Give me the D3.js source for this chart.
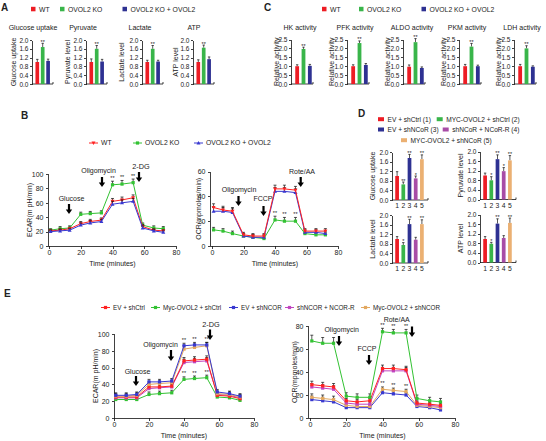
<!DOCTYPE html>
<html><head><meta charset="utf-8">
<script src="https://cdn.jsdelivr.net/npm/d3@7"></script>
<style>
body{margin:0;background:#fff}
svg{display:block}
text{font-family:"Liberation Sans",Arial,Helvetica,sans-serif;fill:#222}
.axis path,.axis line{stroke:#111;stroke-width:0.8;shape-rendering:crispEdges}
</style>
</head><body>
<svg id="c" width="546" height="441"></svg>
<script>
// ================= DATA =================
// Panel A
const groupsA = ["WT", "OVOL2 KO", "OVOL2 KO + OVOL2"];
const titlesA = ["Glucose uptake", "Pyruvate", "Lactate", "ATP"];
const ylabelsA = ["Glucose uptake", "Pyruvate  level", "Lactate level", "ATP level"];
const valuesA = [[1.0, 1.68, 1.05], [1.0, 1.6, 1.02], [1.0, 1.6, 1.02], [1.0, 1.65, 1.13]];
const errorsA = [[0.12, 0.17, 0.08], [0.14, 0.15, 0.1], [0.08, 0.15, 0.06], [0.1, 0.12, 0.1]];
const starsA = [["", "**", ""], ["", "**", ""], ["", "**", ""], ["", "**", ""]];
const ticksA = [0, 0.4, 0.8, 1.2, 1.6, 2.0];

// Panel C
const titlesC = ["HK activity", "PFK activity", "ALDO activity", "PKM activity", "LDH activity"];
const ylabelC = "Relative activity";
const valuesC = [[1.0, 1.97, 1.02], [1.0, 2.3, 1.07], [0.97, 2.35, 0.9], [1.0, 2.1, 1.0], [1.0, 2.0, 0.97]];
const errorsC = [[0.08, 0.1, 0.08], [0.08, 0.12, 0.08], [0.1, 0.2, 0.06], [0.1, 0.18, 0.06], [0.1, 0.15, 0.05]];
const starsC = [["", "**", ""], ["", "**", ""], ["", "**", ""], ["", "**", ""], ["", "**", ""]];
const ticksC = [0, 0.5, 1.0, 1.5, 2.0, 2.5];

// Panel D
const groupsD = ["EV + shCtrl (1)", "MYC-OVOL2 + shCtrl (2)", "EV  + shNCoR (3)", "shNCoR + NCoR-R (4)", "MYC-OVOL2 +  shNCoR (5)"];
const catsD = ["1", "2", "3", "4", "5"];
const ylabelsD = ["Glucose uptake", "Pyruvate level", "Lactate level", "ATP level"];
const valuesD = [[1.0, 0.65, 1.75, 0.9, 1.7], [1.0, 0.8, 1.68, 1.18, 1.63], [1.0, 0.75, 1.62, 0.97, 1.62], [0.98, 0.78, 1.62, 1.02, 1.65]];
const errorsD = [[0.18, 0.1, 0.15, 0.1, 0.18], [0.1, 0.15, 0.18, 0.15, 0.2], [0.1, 0.1, 0.2, 0.1, 0.18], [0.1, 0.06, 0.2, 0.1, 0.2]];
const starsD = [["", "**", "**", "*", "**"], ["", "*", "**", "*", "**"], ["", "*", "**", "", "**"], ["", "*", "**", "", "**"]];
const ticksD = [0, 0.4, 0.8, 1.2, 1.6, 2.0];

// Panel B (Seahorse)
const timesB = [1, 7, 13, 20, 26, 33, 40, 46, 53, 59, 66, 72];
const seriesB = ["WT", "OVOL2 KO", "OVOL2 KO + OVOL2"];
const ecarB = [
  [21, 22, 24, 31, 34, 36, 62, 64, 67, 27, 22, 21],
  [22, 24, 25, 44, 45, 46, 85, 86, 88, 29, 25, 24],
  [20, 21, 22, 29, 32, 34, 58, 60, 62, 25, 21, 19]];
const ecarBErr = [
  [2, 2, 2, 3, 3, 3, 4, 4, 4, 3, 2, 2],
  [2, 3, 3, 3, 3, 3, 5, 5, 5, 3, 3, 3],
  [2, 2, 2, 3, 3, 3, 4, 4, 4, 3, 2, 2]];
const ocrB = [
  [31, 29, 28, 9, 8, 8, 46, 46, 45, 12, 12, 12],
  [13, 12, 10, 8, 7, 6, 21, 20, 20, 10, 9, 9],
  [28, 28, 27, 8, 7, 7, 44, 44, 43, 11, 11, 10]];
const ocrBErr = [
  [3, 3, 3, 2, 2, 2, 3, 3, 3, 2, 2, 2],
  [2, 2, 2, 2, 2, 2, 3, 3, 3, 2, 2, 2],
  [3, 3, 3, 2, 2, 2, 3, 3, 3, 2, 2, 2]];

// Panel E
const timesE = [1, 7, 13, 20, 26, 33, 40, 46, 53, 59, 66, 72];
const seriesE = ["EV + shCtrl", "Myc-OVOL2 + shCtrl", "EV + shNCOR", "shNCOR + NCOR-R", "Myc-OVOL2 + shNCOR"];
const ecarE = [
  [25, 25, 25, 37, 37, 38, 68, 69, 70, 27, 26, 23],
  [22, 22, 22, 28, 29, 30, 46, 47, 48, 25, 24, 21],
  [27, 27, 28, 43, 43, 44, 86, 87, 87, 31, 29, 26],
  [24, 24, 24, 35, 36, 37, 66, 67, 68, 28, 27, 24],
  [26, 26, 27, 40, 41, 42, 82, 84, 86, 29, 28, 25]];
const ecarEErr = [
  [3, 3, 3, 3, 3, 3, 4, 4, 4, 3, 3, 3],
  [3, 3, 3, 3, 3, 3, 3, 3, 3, 3, 3, 3],
  [3, 3, 3, 3, 3, 3, 3, 3, 3, 3, 3, 3],
  [3, 3, 3, 3, 3, 3, 4, 4, 4, 3, 3, 3],
  [3, 3, 3, 3, 3, 3, 4, 4, 4, 3, 3, 3]];
const ocrE = [
  [29, 28, 27, 15, 14, 15, 43, 43, 42, 13, 12, 11],
  [67, 65, 65, 19, 18, 18, 75, 74, 74, 17, 15, 14],
  [16, 15, 14, 9, 9, 9, 22, 21, 20, 10, 9, 7],
  [27, 26, 25, 13, 12, 12, 41, 41, 41, 12, 11, 10],
  [18, 17, 16, 11, 10, 10, 25, 24, 23, 11, 10, 9]];
const ocrEErr = [
  [3, 3, 3, 2, 2, 2, 3, 3, 3, 2, 2, 2],
  [5, 5, 5, 3, 3, 3, 3, 3, 3, 3, 3, 3],
  [3, 3, 3, 2, 2, 2, 2, 2, 2, 2, 2, 2],
  [3, 3, 3, 2, 2, 2, 3, 3, 3, 2, 2, 2],
  [3, 3, 3, 2, 2, 2, 2, 2, 2, 2, 2, 2]];
const xTicksLine = [0, 20, 40, 60, 80];

// ================= STYLE =================
const barCol3 = ["#ed1c24", "#39b54a", "#2e3192"];
const barCol5 = ["#ed1c24", "#39b54a", "#2e3192", "#a84ca6", "#ebb072"];
const lineCol3 = ["#ff2222", "#33c233", "#3838d0"];
const lineCol5 = ["#ff2222", "#33c233", "#3838d0", "#c045c0", "#e2a860"];

const svg = d3.select("#c");
svg.append("rect").attr("width", 546).attr("height", 441).attr("fill", "#fff");

function txt(x, y, s, o = {}) {
  const t = svg.append("text").attr("x", x).attr("y", y).text(s)
    .attr("font-size", o.size || 7).attr("text-anchor", o.anchor || "start");
  if (o.bold) t.attr("font-weight", "bold");
  if (o.rot) t.attr("transform", `rotate(-90,${x},${y})`);
  return t;
}
function panelLabel(x, y, s) { txt(x, y, s, {size: 10, bold: true}); }

function arrow(x, y1, y2) {
  const hw = 3.2, hh = 4.5;
  svg.append("rect").attr("x", x - 1.1).attr("y", y1).attr("width", 2.2).attr("height", y2 - y1 - hh + 0.5).attr("fill", "#000");
  svg.append("path").attr("d", `M${x - hw},${y2 - hh}L${x + hw},${y2 - hh}L${x},${y2}Z`).attr("fill", "#000");
}

function barPlot(o) {
  const g = svg.append("g");
  const y = d3.scaleLinear().domain([0, o.max]).range([o.yBot, o.yTop]);
  const x = d3.scaleBand().domain(d3.range(o.values.length))
    .range([o.x0 + o.l, o.x0 + o.r]).paddingInner(o.pad).paddingOuter(o.pad / 2);
  const ax = g.append("g").attr("class", "axis").attr("transform", `translate(${o.x0},0)`)
    .call(d3.axisLeft(y).tickValues(o.ticks).tickSize(2).tickSizeOuter(0).tickPadding(1.5).tickFormat(d3.format(".1f")));
  ax.selectAll("text").attr("font-size", 6.5).style("fill", "#222");
  g.append("line").attr("x1", o.x0).attr("x2", o.x0 + o.w).attr("y1", o.yBot).attr("y2", o.yBot)
    .attr("stroke", "#111").attr("stroke-width", 0.8);
  g.append("line").attr("x1", o.x0 + o.w).attr("x2", o.x0 + o.w).attr("y1", o.yBot).attr("y2", o.yBot - 2)
    .attr("stroke", "#111").attr("stroke-width", 0.8);
  o.values.forEach((v, i) => {
    const cx = x(i) + x.bandwidth() / 2;
    const top = y(v + o.errors[i]);
    g.append("line").attr("x1", cx).attr("x2", cx).attr("y1", y(v)).attr("y2", top).attr("stroke", "#111").attr("stroke-width", 0.7);
    g.append("line").attr("x1", cx - 1.2).attr("x2", cx + 1.2).attr("y1", top).attr("y2", top).attr("stroke", "#111").attr("stroke-width", 0.7);
    g.append("rect").attr("x", x(i)).attr("y", y(v)).attr("width", x.bandwidth()).attr("height", o.yBot - y(v)).attr("fill", o.colors[i]);
    if (o.stars && o.stars[i]) {
      g.append("text").attr("x", cx).attr("y", top + 0.5).attr("text-anchor", "middle").attr("font-size", 5.5).text(o.stars[i]);
    }
    if (o.cats) {
      g.append("text").attr("x", cx).attr("y", o.yBot + 8).attr("text-anchor", "middle").attr("font-size", 6.8).text(o.cats[i]);
    }
  });
  if (o.title) txt(o.titleX, o.titleY, o.title, {size: 7, anchor: "middle"});
  txt(o.ylabX, (o.yTop + o.yBot) / 2, o.ylab, {size: 7, anchor: "middle", rot: true});
}

function legendSquares(items, colors, pos, size) {
  items.forEach((s, i) => {
    const p = pos[i];
    svg.append("rect").attr("x", p[0]).attr("y", p[1] - 2.5).attr("width", p[2] || 4.5).attr("height", p[3] || 4.5).attr("fill", colors[i]);
    txt(p[0] + (p[2] || 4.5) + 3.5, p[1] + 2.3, s, {size: size || 6.8});
  });
}

function marker(g, kind, cx, cy, col) {
  if (kind === "sq") {
    g.append("rect").attr("x", cx - 1.6).attr("y", cy - 1.6).attr("width", 3.2).attr("height", 3.2).attr("fill", col);
  } else {
    const up = kind === "up";
    const d = up ? `M${cx},${cy - 2}L${cx + 2},${cy + 1.5}L${cx - 2},${cy + 1.5}Z`
                 : `M${cx},${cy + 2}L${cx + 2},${cy - 1.5}L${cx - 2},${cy - 1.5}Z`;
    g.append("path").attr("d", d).attr("fill", col);
  }
}

function lineLegend(items, colors, kinds, pos, y, size) {
  items.forEach((s, i) => {
    const x0 = pos[i];
    svg.append("line").attr("x1", x0).attr("x2", x0 + 9).attr("y1", y).attr("y2", y).attr("stroke", colors[i]).attr("stroke-width", 1);
    marker(svg, kinds[i], x0 + 4.5, y, colors[i]);
    txt(x0 + 12, y + 2.4, s, {size: size || 6.8});
  });
}

function lineChart(o) {
  const g = svg.append("g");
  const x = d3.scaleLinear().domain([0, 80]).range([o.x0, o.x1]);
  const y = d3.scaleLinear().domain([0, o.ymax]).range([o.yBot, o.yTop]);
  const ay = g.append("g").attr("class", "axis").attr("transform", `translate(${o.ax},0)`)
    .call(d3.axisLeft(y).tickValues(o.yticks).tickSize(2.5).tickSizeOuter(0).tickPadding(2));
  ay.selectAll("text").attr("font-size", 7).style("fill", "#222");
  ay.select(".domain").attr("d", `M0,${o.yBot}V${o.yTop}`);
  const axx = g.append("g").attr("class", "axis").attr("transform", `translate(0,${o.yBot})`)
    .call(d3.axisBottom(x).tickValues(xTicksLine).tickSize(2.5).tickSizeOuter(0).tickPadding(2));
  axx.selectAll("text").attr("font-size", 7).style("fill", "#222");
  axx.select(".domain").attr("d", `M${o.ax},0H${x(80)}`);
  txt((o.x0 + o.x1) / 2, o.yBot + 20, "Time (minutes)", {size: 7, anchor: "middle"});
  txt(o.ylabX, (o.yTop + o.yBot) / 2, o.ylab, {size: 7, anchor: "middle", rot: true});
  const line = d3.line().x((d, i) => x(o.times[i])).y(d => y(d));
  o.order.forEach(k => {
    const vals = o.data[k], errs = o.err[k], col = o.colors[k];
    vals.forEach((v, i) => {
      const cx = x(o.times[i]), t = y(v + errs[i]);
      g.append("line").attr("x1", cx).attr("x2", cx).attr("y1", y(v)).attr("y2", t).attr("stroke", "#111").attr("stroke-width", 0.7);
      g.append("line").attr("x1", cx - 1.5).attr("x2", cx + 1.5).attr("y1", t).attr("y2", t).attr("stroke", "#111").attr("stroke-width", 0.7);
    });
    g.append("path").attr("d", line(vals)).attr("fill", "none").attr("stroke", col).attr("stroke-width", 1);
    vals.forEach((v, i) => marker(g, o.kinds[k], x(o.times[i]), y(v), col));
  });
  (o.stars || []).forEach(st => {
    st.idx.forEach(i => {
      const v = o.data[st.series][i] + o.err[st.series][i];
      g.append("text").attr("x", x(o.times[i])).attr("y", y(v) - 1.5).attr("text-anchor", "middle").attr("font-size", 5.5).text("**");
    });
  });
}

// ================= PANEL A =================
panelLabel(1, 11, "A");
legendSquares(groupsA, barCol3, [[31, 9.3], [60, 9.3], [122.5, 9.3]]);
const ax0 = [32, 86, 142, 193];
const aTitleX = [33, 83, 140, 194];
const aYlabX = [16, 70, 124, 178];
titlesA.forEach((t, k) => barPlot({
  x0: ax0[k], w: 21, l: 2.6, r: 18.8, pad: 0.32, yTop: 40, yBot: 84, max: 2.0, ticks: ticksA,
  values: valuesA[k], errors: errorsA[k], colors: barCol3, stars: starsA[k],
  title: t, titleX: aTitleX[k], titleY: 29.5, ylab: ylabelsA[k], ylabX: aYlabX[k]
}));

// ================= PANEL C =================
panelLabel(264, 11, "C");
legendSquares(groupsA, barCol3, [[322, 9.3], [359, 9.3], [421.5, 9.3]]);
const cx0 = [291, 347, 403, 459, 514];
const cTitleX = [300, 355, 412, 467, 522];
const cYlabX = [279, 334, 390, 446, 501];
titlesC.forEach((t, k) => barPlot({
  x0: cx0[k], w: 22, l: 3, r: 22, pad: 0.4, yTop: 39.5, yBot: 84, max: 2.5, ticks: ticksC,
  values: valuesC[k], errors: errorsC[k], colors: barCol3, stars: starsC[k],
  title: t, titleX: cTitleX[k], titleY: 30, ylab: ylabelC, ylabX: cYlabX[k]
}));

// ================= PANEL B =================
panelLabel(21, 119, "B");
lineLegend(seriesB, lineCol3, ["down", "sq", "up"], [89, 133, 194], 143);
lineChart({
  x0: 49, x1: 176, ax: 48, yTop: 174, yBot: 246, ymax: 100, yticks: [0, 20, 40, 60, 80, 100],
  times: timesB, data: ecarB, err: ecarBErr, colors: lineCol3, kinds: ["down", "sq", "up"], order: [1, 0, 2],
  ylab: "ECAR(m pH/min)", ylabX: 32, stars: [{series: 1, idx: [6, 7, 8]}]
});
txt(71.5, 201, "Glucose", {anchor: "middle"}); arrow(69, 204, 214);
txt(98.5, 172.5, "Oligomycin", {anchor: "middle"}); arrow(102, 177, 187);
txt(141, 168.5, "2-DG", {anchor: "middle", size: 7.3}); arrow(139, 172, 182);

lineChart({
  x0: 212, x1: 338, ax: 210, yTop: 171.5, yBot: 246, ymax: 60, yticks: [0, 20, 40, 60],
  times: timesB, data: ocrB, err: ocrBErr, colors: lineCol3, kinds: ["down", "sq", "up"], order: [1, 2, 0],
  ylab: "OCR(mpmoles/min)", ylabX: 201, stars: [{series: 1, idx: [6, 7, 8]}]
});
txt(239, 192, "Oligomycin", {anchor: "middle"}); arrow(238.5, 196, 206);
txt(263, 201, "FCCP", {anchor: "middle"}); arrow(263.5, 206, 216);
txt(302, 173.5, "Rote/AA", {anchor: "middle"}); arrow(300.7, 177, 187);

// ================= PANEL D =================
panelLabel(358, 117, "D");
legendSquares(groupsD, barCol5, [[378, 119.7, 6, 4], [436.7, 119.7, 6, 4], [378, 130, 6, 4], [442.7, 130, 6, 4], [401, 140.7, 6, 4]], 6.6);
const dX0 = [392, 480, 392, 480];
const dYTop = [152, 151.5, 215, 214.5];
const dYlabX = [375, 463, 375, 463];
ylabelsD.forEach((t, k) => barPlot({
  x0: dX0[k], w: 36, l: 2, r: 33, pad: 0.4, yTop: dYTop[k], yBot: dYTop[k] + 48, max: 2.0, ticks: ticksD,
  values: valuesD[k], errors: errorsD[k], colors: barCol5, stars: starsD[k], cats: catsD,
  ylab: t, ylabX: dYlabX[k]
}));

// ================= PANEL E =================
panelLabel(4, 297, "E");
lineLegend(seriesE, lineCol5, ["sq", "sq", "sq", "sq", "sq"], [101, 151, 229, 285, 361], 307.5, 6.3);
lineChart({
  x0: 114, x1: 254, ax: 114, yTop: 334, yBot: 418, ymax: 100, yticks: [0, 20, 40, 60, 80, 100],
  times: timesE, data: ecarE, err: ecarEErr, colors: lineCol5, kinds: ["sq", "sq", "sq", "sq", "sq"], order: [1, 3, 0, 4, 2],
  ylab: "ECAR(m pH/min)", ylabX: 98, stars: [{series: 2, idx: [6, 7, 8]}, {series: 1, idx: [6, 7, 8]}]
});
txt(137.5, 373.5, "Glucose", {anchor: "middle"}); arrow(136, 376, 386);
txt(160.5, 347, "Oligomycin", {anchor: "middle"}); arrow(171, 350, 361);
txt(211, 327, "2-DG", {anchor: "middle", size: 7.3}); arrow(210, 329.5, 340);

lineChart({
  x0: 310, x1: 455, ax: 308, yTop: 326, yBot: 418, ymax: 80, yticks: [0, 20, 40, 60, 80],
  times: timesE, data: ocrE, err: ocrEErr, colors: lineCol5, kinds: ["sq", "sq", "sq", "sq", "sq"], order: [2, 4, 3, 0, 1],
  ylab: "OCR(mpmoles/min)", ylabX: 297, stars: [{series: 1, idx: [6, 7, 8]}, {series: 4, idx: [6, 7, 8]}]
});
txt(341.7, 331.5, "Oligomycin", {anchor: "middle"}); arrow(339, 336, 346);
txt(367, 351, "FCCP", {anchor: "middle"}); arrow(369, 355, 365);
txt(396.7, 322, "Rote/AA", {anchor: "middle"}); arrow(412, 326.5, 337);
</script>
</body></html>
